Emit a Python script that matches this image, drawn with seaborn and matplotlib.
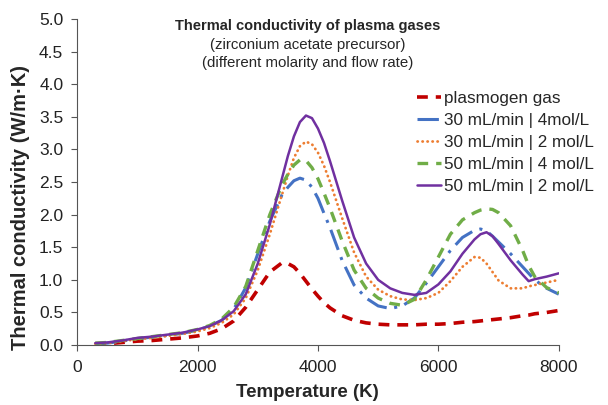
import matplotlib
matplotlib.use("Agg")
import matplotlib.pyplot as plt
import seaborn as sns
import pandas as pd

# temperature grid (K)
temperature = [300, 500, 750, 1000, 1250, 1500, 1750, 2000, 2200, 2400, 2600, 2800,
               3000, 3200, 3400, 3500, 3600, 3700, 3800, 3900, 4000, 4100, 4200,
               4400, 4600, 4800, 5000, 5200, 5400, 5600, 5800, 6000, 6200, 6400,
               6600, 6700, 6800, 6900, 7000, 7200, 7400, 7500, 7600, 7800, 8000]

plasmogen = [0.02, 0.02, 0.04, 0.06, 0.07, 0.09, 0.11, 0.14, 0.18, 0.25, 0.37, 0.58,
             0.85, 1.12, 1.26, 1.25, 1.20, 1.10, 0.98, 0.86, 0.75, 0.65, 0.57,
             0.45, 0.38, 0.34, 0.32, 0.31, 0.31, 0.31, 0.32, 0.32, 0.33, 0.35,
             0.36, 0.37, 0.38, 0.39, 0.40, 0.42, 0.45, 0.46, 0.48, 0.50, 0.53]

f30_m4 = [0.02, 0.03, 0.06, 0.10, 0.12, 0.15, 0.18, 0.23, 0.29, 0.38, 0.55, 0.88,
          1.40, 1.90, 2.30, 2.42, 2.52, 2.56, 2.53, 2.42, 2.25, 2.02, 1.80,
          1.30, 0.92, 0.72, 0.60, 0.56, 0.60, 0.72, 0.95, 1.20, 1.45, 1.65,
          1.76, 1.78, 1.75, 1.67, 1.58, 1.40, 1.20, 1.10, 1.00, 0.87, 0.78]

f30_m2 = [0.02, 0.03, 0.06, 0.09, 0.11, 0.14, 0.17, 0.21, 0.26, 0.34, 0.47, 0.72,
          1.15, 1.70, 2.30, 2.60, 2.87, 3.05, 3.12, 3.08, 2.95, 2.75, 2.50,
          1.95, 1.42, 1.05, 0.85, 0.75, 0.70, 0.69, 0.72, 0.80, 0.98, 1.20,
          1.35, 1.34, 1.25, 1.12, 0.99, 0.87, 0.87, 0.90, 0.92, 0.96, 1.00]

f50_m4 = [0.03, 0.04, 0.07, 0.10, 0.13, 0.16, 0.19, 0.24, 0.30, 0.40, 0.58, 0.90,
          1.45, 2.00, 2.45, 2.62, 2.76, 2.84, 2.83, 2.72, 2.55, 2.33, 2.10,
          1.60, 1.15, 0.87, 0.72, 0.64, 0.61, 0.70, 1.00, 1.35, 1.70, 1.92,
          2.03, 2.07, 2.09, 2.08, 2.03, 1.83, 1.45, 1.22, 1.05, 0.88, 0.80]

f50_m2 = [0.03, 0.04, 0.07, 0.11, 0.13, 0.16, 0.19, 0.24, 0.29, 0.38, 0.52, 0.78,
          1.25, 1.85, 2.55, 2.90, 3.20, 3.42, 3.52, 3.48, 3.32, 3.10, 2.82,
          2.22, 1.65, 1.25, 1.00, 0.87, 0.80, 0.77, 0.80, 0.93, 1.13, 1.40,
          1.62, 1.70, 1.73, 1.67, 1.55, 1.30, 1.08, 0.98, 1.01, 1.05, 1.10]

labels = ["plasmogen gas", "30 mL/min | 4mol/L", "30 mL/min | 2 mol/L",
          "50 mL/min | 4 mol/L", "50 mL/min | 2 mol/L"]
series = [plasmogen, f30_m4, f30_m2, f50_m4, f50_m2]

colors = ["#C00000", "#4472C4", "#ED7D31", "#70AD47", "#7030A0"]
styles = [(0, (3.0, 2.2)), (0, (7, 2.5, 1, 2.5)), (0, (0.1, 1.7)), (0, (3.2, 2.4)), "-"]
widths = [2.6, 2.2, 2.0, 2.4, 1.8]
caps = ["butt", "butt", "round", "butt", "butt"]

sns.set_style("ticks")
plt.rcParams["font.family"] = ["Liberation Sans", "DejaVu Sans"]

fig = plt.figure(figsize=(6.08, 4.05), dpi=100)
ax = fig.add_axes([0.127, 0.148, 0.792, 0.805])

for vals, lab, col, ls, lw, cap in zip(series, labels, colors, styles, widths, caps):
    df = pd.DataFrame({"T": temperature, "k": vals})
    sns.lineplot(data=df, x="T", y="k", ax=ax, color=col, linestyle=ls,
                 linewidth=lw, label=lab, dash_capstyle=cap)

ax.set_xlim(0, 8000)
ax.set_ylim(0, 5)
ax.set_xticks([0, 2000, 4000, 6000, 8000])
ax.set_yticks([i * 0.5 for i in range(11)])
ax.yaxis.set_major_formatter(matplotlib.ticker.FormatStrFormatter("%.1f"))
ax.tick_params(labelsize=12.5, length=4, color="#555555", labelcolor="#222222")
ax.tick_params(axis="y", pad=6)
ax.tick_params(axis="x", pad=7)
for s in ["left", "bottom"]:
    ax.spines[s].set_color("#555555")
sns.despine(ax=ax)

ax.set_xlabel("Temperature (K)", fontsize=13.5, fontweight="bold")
ax.set_ylabel("Thermal conductivity (W/m·K)", fontsize=14.5, fontweight="bold")
ax.xaxis.set_label_coords(0.479, -0.118)
ax.yaxis.set_label_coords(-0.098, 0.423)

ax.text(0.479, 0.978, "Thermal conductivity of plasma gases", transform=ax.transAxes,
        ha="center", va="center", fontsize=10.5, fontweight="bold")
ax.text(0.479, 0.920, "(zirconium acetate precursor)", transform=ax.transAxes,
        ha="center", va="center", fontsize=10.8)
ax.text(0.479, 0.865, "(different molarity and flow rate)", transform=ax.transAxes,
        ha="center", va="center", fontsize=10.8)

ax.legend(loc="upper left", bbox_to_anchor=(0.705, 0.78), frameon=False,
          fontsize=12.3, handlelength=1.45, handletextpad=0.15, borderpad=0,
          borderaxespad=0, labelspacing=0.42)

fig.savefig("out.png", dpi=100)
